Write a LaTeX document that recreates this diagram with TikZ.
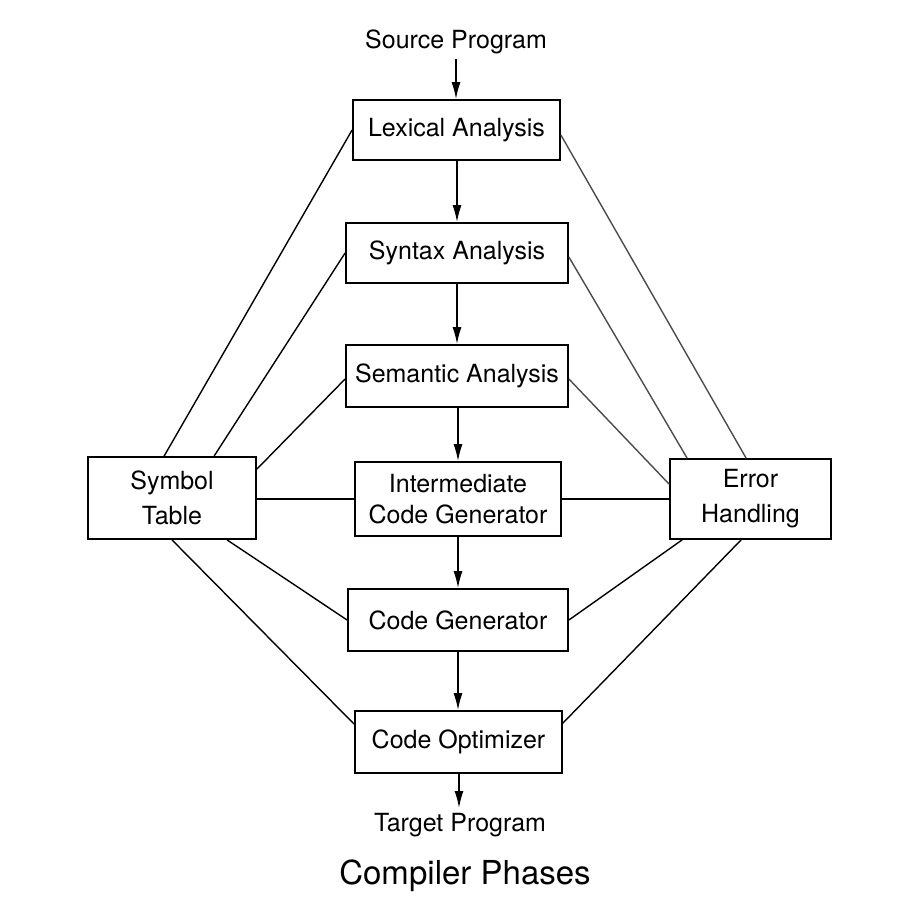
\documentclass[tikz,border=0pt]{standalone}
\usepackage{fontspec}
\setmainfont{TeX Gyre Heros}
\usetikzlibrary{arrows.meta,calc}
\begin{document}
\begin{tikzpicture}[x=1pt,y=-1pt,
  phase/.style={draw=black,line width=1.8pt,rectangle,inner sep=0pt,align=center,
    font=\fontsize{25}{31}\selectfont},
  side/.style={phase,font=\fontsize{25}{35}\selectfont},
  label/.style={inner sep=0pt,font=\fontsize{25}{30}\selectfont},
  flow/.style={line width=1.5pt,-{Latex[length=17pt,width=9pt]}},
  link/.style={line width=1.4pt,black},
  glink/.style={line width=1.4pt,black!70}]
\useasboundingbox (0,0) rectangle (907,924);
\fill[white] (0,0) rectangle (907,924);

\node[label] (src) at (456,42) {Source Program};
\node[phase,minimum width=207pt,minimum height=60pt] (lex) at (456.5,130) {Lexical Analysis};
\node[phase,minimum width=222pt,minimum height=60pt] (syn) at (457,253) {Syntax Analysis};
\node[phase,minimum width=222pt,minimum height=62pt] (sem) at (457,376) {Semantic Analysis};
\node[phase,minimum width=206pt,minimum height=74pt] (icg) at (458,499) {Intermediate\\Code Generator};
\node[phase,minimum width=220pt,minimum height=62pt] (cg) at (458,620) {Code Generator};
\node[phase,minimum width=207pt,minimum height=62pt] (co) at (458.5,742) {Code Optimizer};
\node[label] (tgt) at (460,825) {Target Program};
\node[side,minimum width=168pt,minimum height=82pt] (sym) at (172,498) {Symbol\\Table};
\node[side,minimum width=161pt,minimum height=80pt] (err) at (750.5,499) {Error\\Handling};
\node[inner sep=0pt,font=\fontsize{33}{38}\selectfont] (title) at (465,876) {Compiler Phases};

\coordinate (top) at (456,59);
\coordinate (bot) at (459,808);
\draw[flow] (top) -- (top |- lex.north);
\draw[flow] (syn.north |- lex.south) -- (syn.north);
\draw[flow] (syn.south) -- (syn.south |- sem.north);
\draw[flow] (sem.south -| icg.north) -- (icg.north);
\draw[flow] (icg.south) -- (icg.south |- cg.north);
\draw[flow] (cg.south) -- (cg.south |- co.north);
\draw[flow] (bot |- co.south) -- (bot);

\draw[link] ($(sym.north west)+(77,0)$) -- (lex.west);
\draw[link] ($(sym.north west)+(127,0)$) -- (syn.west);
\draw[link] ($(sym.north east)+(0,13)$) -- ($(sem.west)+(0,3)$);
\draw[link] (icg.west) -- (icg.west -| sym.east);
\draw[link] ($(sym.south west)+(140,0)$) -- (cg.west);
\draw[link] (sym.south) -- ($(co.north west)+(0,14)$);

\draw[glink] ($(err.north west)+(77,0)$) -- ($(lex.east)+(0,5)$);
\draw[glink] ($(err.north west)+(18,0)$) -- ($(syn.east)+(0,4)$);
\draw[glink] ($(err.north west)+(0,26)$) -- ($(sem.east)+(0,3)$);
\draw[link] (icg.east) -- (icg.east -| err.west);
\draw[link] ($(err.south west)+(13,0)$) -- (cg.east);
\draw[link] ($(err.south west)+(72,0)$) -- ($(co.north east)+(0,13)$);
\end{tikzpicture}
\end{document}
